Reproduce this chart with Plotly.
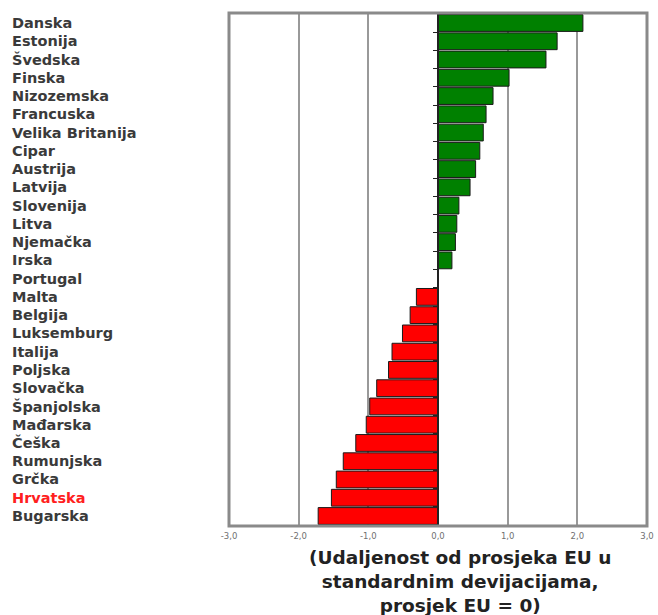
import plotly.graph_objects as go

countries = ["Danska", "Estonija", "Švedska", "Finska", "Nizozemska", "Francuska",
             "Velika Britanija", "Cipar", "Austrija", "Latvija", "Slovenija", "Litva",
             "Njemačka", "Irska", "Portugal", "Malta", "Belgija", "Luksemburg", "Italija",
             "Poljska", "Slovačka", "Španjolska", "Mađarska", "Češka", "Rumunjska",
             "Grčka", "Hrvatska", "Bugarska"]
values = [2.08, 1.71, 1.55, 1.02, 0.79, 0.69, 0.65, 0.60, 0.54, 0.46, 0.30, 0.27,
          0.25, 0.20, 0.0, -0.31, -0.40, -0.51, -0.66, -0.71, -0.88, -0.98, -1.03,
          -1.18, -1.36, -1.46, -1.53, -1.72]
tick_vals = [-3, -2, -1, 0, 1, 2, 3]
tick_text = ["-3,0", "-2,0", "-1,0", "0,0", "1,0", "2,0", "3,0"]
axis_title = "<b>(Udaljenost od prosjeka EU u<br>standardnim devijacijama,<br>prosjek EU = 0)</b>"
highlight = "Hrvatska"

colors = ["#008000" if v >= 0 else "#FF0000" for v in values]

fig = go.Figure(go.Bar(
    x=values, y=countries, orientation="h",
    marker=dict(color=colors, line=dict(color="#1a1a1a", width=1)),
))

annotations = []
for c in countries:
    annotations.append(dict(
        x=-0.524, xref="paper", y=c, yref="y", text=c, showarrow=False,
        xanchor="left", yanchor="middle",
        font=dict(family="DejaVu Sans", size=14.5, weight="bold",
                  color="#FF2020" if c == highlight else "#3a3a3a"),
    ))
annotations.append(dict(
    x=0.553, xref="paper", y=-0.038, yref="paper", text=axis_title, showarrow=False,
    xanchor="center", yanchor="top",
    font=dict(family="DejaVu Sans", size=18.5, color="#222222"),
))

frame = dict(type="rect", xref="paper", yref="paper", x0=0, x1=1, y0=0, y1=1,
             line=dict(color="#8a8a8a", width=3), layer="above")

fig.update_layout(
    width=658, height=615,
    margin=dict(l=229, r=11, t=13, b=89),
    paper_bgcolor="white", plot_bgcolor="white",
    showlegend=False, bargap=0.08,
    annotations=annotations, shapes=[frame],
    xaxis=dict(range=[-3, 3], tickvals=tick_vals, ticktext=tick_text,
               tickfont=dict(family="DejaVu Sans", size=8.5, color="#707070"),
               ticklabelstandoff=3,
               showgrid=True, gridcolor="#999999", gridwidth=2,
               showline=False, zeroline=False, ticks="", fixedrange=True,
               automargin=False),
    yaxis=dict(autorange="reversed", showticklabels=False, showgrid=False,
               anchor="free", position=0.5, showline=True, linecolor="#222222",
               linewidth=1.5, ticks="outside", ticklen=4, tickcolor="#222222",
               tickson="boundaries", fixedrange=True, automargin=False),
)

fig.write_html("out.html", config={"displayModeBar": False},
               post_script="document.body.style.margin='0';document.body.style.overflow='hidden';")
